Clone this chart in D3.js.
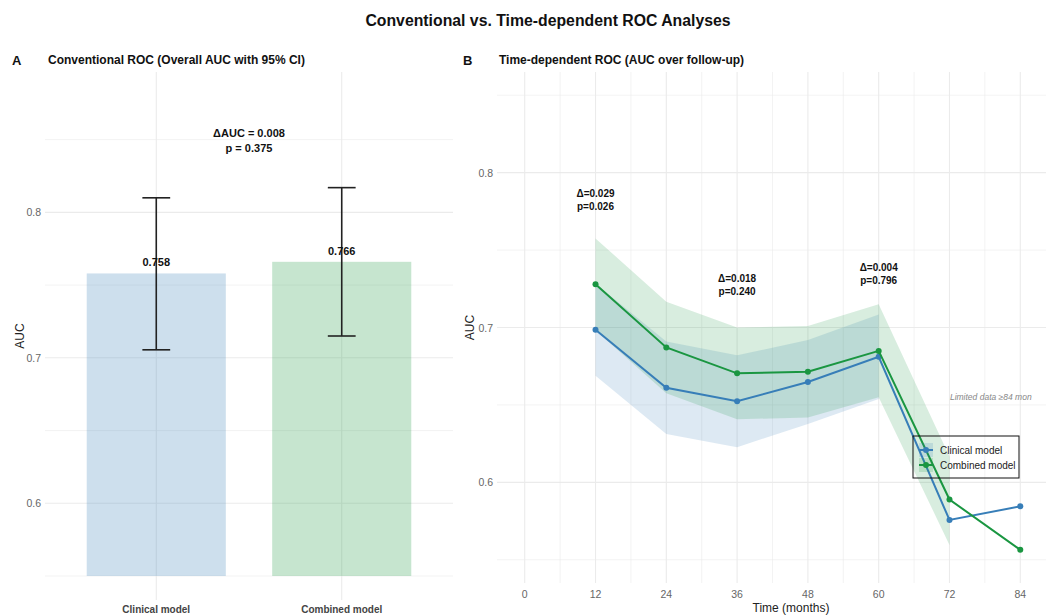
<!DOCTYPE html>
<html>
<head>
<meta charset="utf-8">
<script src="https://cdn.jsdelivr.net/npm/d3@7"></script>
<style>
  body { margin: 0; background: #fff; }
  svg { font-family: "Liberation Sans", Arial, sans-serif; display: block; }
</style>
</head>
<body>
<svg id="chart" width="1046" height="615"></svg>
<script>
// panel A data
const models = ["Clinical model", "Combined model"];
const overallAuc = [0.758, 0.766];
const overallLower = [0.7055, 0.715];
const overallUpper = [0.810, 0.817];
const overallDelta = "0.008";
const overallP = "0.375";

// panel B data
const months = [12, 24, 36, 48, 60, 72, 84];
const clinicalAuc = [0.6985, 0.6611, 0.6524, 0.6648, 0.6811, 0.5757, 0.5845];
const combinedAuc = [0.7279, 0.6871, 0.6704, 0.6714, 0.6849, 0.5889, 0.5564];
const clinicalLower = [0.6688, 0.6313, 0.6227, 0.6377, 0.6538, null, null];
const clinicalUpper = [0.7282, 0.6909, 0.6821, 0.6919, 0.7084, null, null];
const combinedLower = [0.6983, 0.6575, 0.6408, 0.6418, 0.6549, 0.5596, null];
const combinedUpper = [0.7575, 0.7167, 0.7000, 0.7010, 0.7150, 0.6167, null];
const annotMonths = [12, 36, 60];
const annotDelta = ["0.029", "0.018", "0.004"];
const annotP = ["0.026", "0.240", "0.796"];
const annotY = [0.7826, 0.7274, 0.7345];
const xTicks = [0, 12, 24, 36, 48, 60, 72, 84];
const xMinor = [6, 18, 30, 42, 54, 66, 78];
const yTicks = [0.6, 0.7, 0.8];
const yMinor = [0.55, 0.65, 0.75, 0.85];

const blue = "#377EB8", green = "#1A9641";
const colors = [blue, green];
const gridColor = "#ebebeb";

const svg = d3.select("#chart");

// main title
svg.append("text")
    .attr("x", 548).attr("y", 26)
    .attr("text-anchor", "middle")
    .attr("font-size", "15.8px").attr("font-weight", "bold").attr("fill", "#111")
    .text("Conventional vs. Time-dependent ROC Analyses");

// ---------- Panel A ----------
const a = {left: 45, right: 453, top: 72, bottom: 600};
const xA = d3.scalePoint().domain(models).range([a.left, a.right]).padding(0.6);
const yA = d3.scaleLinear().domain([0.5335, 0.8965]).range([a.bottom, a.top]);
const step = xA.step();

svg.append("text").attr("x", 12).attr("y", 65)
    .attr("font-size", "13px").attr("font-weight", "bold").attr("fill", "#111").text("A");
svg.append("text").attr("x", 48).attr("y", 64)
    .attr("font-size", "12px").attr("font-weight", "bold").attr("fill", "#111")
    .text("Conventional ROC (Overall AUC with 95% CI)");

const gA = svg.append("g");
gA.selectAll(".minor").data(yMinor).enter().append("line")
    .attr("x1", a.left).attr("x2", a.right)
    .attr("y1", d => yA(d)).attr("y2", d => yA(d))
    .attr("stroke", gridColor).attr("stroke-width", 0.6);
gA.selectAll(".major").data(yTicks).enter().append("line")
    .attr("x1", a.left).attr("x2", a.right)
    .attr("y1", d => yA(d)).attr("y2", d => yA(d))
    .attr("stroke", gridColor).attr("stroke-width", 1.1);
gA.selectAll(".vgrid").data(models).enter().append("line")
    .attr("x1", d => xA(d)).attr("x2", d => xA(d))
    .attr("y1", a.top).attr("y2", a.bottom)
    .attr("stroke", gridColor).attr("stroke-width", 1.1);

gA.selectAll(".bar").data(models).enter().append("rect")
    .attr("x", d => xA(d) - step * 0.375)
    .attr("width", step * 0.75)
    .attr("y", (d, i) => yA(overallAuc[i]))
    .attr("height", (d, i) => yA(0.55) - yA(overallAuc[i]))
    .attr("fill", (d, i) => colors[i]).attr("fill-opacity", 0.25);

models.forEach((m, i) => {
    const cx = xA(m), w = step * 0.075;
    gA.append("line").attr("x1", cx).attr("x2", cx)
        .attr("y1", yA(overallLower[i])).attr("y2", yA(overallUpper[i]))
        .attr("stroke", "#222").attr("stroke-width", 1.6);
    [overallLower[i], overallUpper[i]].forEach(v => {
        gA.append("line").attr("x1", cx - w).attr("x2", cx + w)
            .attr("y1", yA(v)).attr("y2", yA(v))
            .attr("stroke", "#222").attr("stroke-width", 1.6);
    });
    gA.append("text").attr("x", cx).attr("y", yA(overallAuc[i]) - 7)
        .attr("text-anchor", "middle").attr("font-size", "11px").attr("font-weight", "bold")
        .attr("fill", "#111").text(overallAuc[i].toFixed(3));
    gA.append("text").attr("x", cx).attr("y", a.bottom + 13)
        .attr("text-anchor", "middle").attr("font-size", "10px").attr("font-weight", "bold")
        .attr("fill", "#444").text(m);
});

const midA = (xA(models[0]) + xA(models[1])) / 2;
gA.append("text").attr("x", midA).attr("y", yA(0.85) - 3)
    .attr("text-anchor", "middle").attr("font-size", "11px").attr("font-weight", "bold")
    .attr("fill", "#111").text("ΔAUC = " + overallDelta);
gA.append("text").attr("x", midA).attr("y", yA(0.85) + 12)
    .attr("text-anchor", "middle").attr("font-size", "11px").attr("font-weight", "bold")
    .attr("fill", "#111").text("p = " + overallP);

gA.selectAll(".ytick").data(yTicks).enter().append("text")
    .attr("x", a.left - 4).attr("y", d => yA(d) + 4)
    .attr("text-anchor", "end").attr("font-size", "10.5px").attr("fill", "#666")
    .text(d => d.toFixed(1));
gA.append("text")
    .attr("transform", `translate(24,${(a.top + a.bottom) / 2}) rotate(-90)`)
    .attr("text-anchor", "middle").attr("font-size", "12px").attr("fill", "#222")
    .text("AUC");

// ---------- Panel B ----------
const b = {left: 497, right: 1048, top: 72, bottom: 583};
const xB = d3.scaleLinear().domain([-4.7, 88.7]).range([b.left, b.right]);
const yB = d3.scaleLinear().domain([0.535, 0.865]).range([b.bottom, b.top]);

svg.append("text").attr("x", 463).attr("y", 65)
    .attr("font-size", "13px").attr("font-weight", "bold").attr("fill", "#111").text("B");
svg.append("text").attr("x", 499).attr("y", 64)
    .attr("font-size", "12px").attr("font-weight", "bold").attr("fill", "#111")
    .text("Time-dependent ROC (AUC over follow-up)");

const gB = svg.append("g");
gB.selectAll(".minor").data(yMinor).enter().append("line")
    .attr("x1", b.left).attr("x2", b.right)
    .attr("y1", d => yB(d)).attr("y2", d => yB(d))
    .attr("stroke", gridColor).attr("stroke-width", 0.6);
gB.selectAll(".major").data(yTicks).enter().append("line")
    .attr("x1", b.left).attr("x2", b.right)
    .attr("y1", d => yB(d)).attr("y2", d => yB(d))
    .attr("stroke", gridColor).attr("stroke-width", 1.1);
gB.selectAll(".xminor").data(xMinor).enter().append("line")
    .attr("x1", d => xB(d)).attr("x2", d => xB(d))
    .attr("y1", b.top).attr("y2", b.bottom)
    .attr("stroke", gridColor).attr("stroke-width", 0.6);
gB.selectAll(".xmajor").data(xTicks).enter().append("line")
    .attr("x1", d => xB(d)).attr("x2", d => xB(d))
    .attr("y1", b.top).attr("y2", b.bottom)
    .attr("stroke", gridColor).attr("stroke-width", 1.1);

const series = [
    {name: "Clinical model", auc: clinicalAuc, lo: clinicalLower, hi: clinicalUpper, color: blue},
    {name: "Combined model", auc: combinedAuc, lo: combinedLower, hi: combinedUpper, color: green}
];

const area = d3.area()
    .defined(d => d.lo !== null)
    .x(d => xB(d.m)).y0(d => yB(d.lo)).y1(d => yB(d.hi));
const line = d3.line().x(d => xB(d.m)).y(d => yB(d.v));

series.forEach(s => {
    const rows = months.map((m, i) => ({m: m, lo: s.lo[i], hi: s.hi[i]}));
    gB.append("path").datum(rows)
        .attr("d", area).attr("fill", s.color).attr("fill-opacity", 0.17);
});

series.forEach(s => {
    const pts = months.map((m, i) => ({m: m, v: s.auc[i]}));
    gB.append("path").datum(pts)
        .attr("d", line).attr("fill", "none")
        .attr("stroke", s.color).attr("stroke-width", 2);
    gB.selectAll(null).data(pts).enter().append("circle")
        .attr("cx", d => xB(d.m)).attr("cy", d => yB(d.v)).attr("r", 3)
        .attr("fill", s.color);
});

annotMonths.forEach((m, i) => {
    gB.append("text").attr("x", xB(m)).attr("y", yB(annotY[i]) - 3)
        .attr("text-anchor", "middle").attr("font-size", "10px").attr("font-weight", "bold")
        .attr("fill", "#111").text("Δ=" + annotDelta[i]);
    gB.append("text").attr("x", xB(m)).attr("y", yB(annotY[i]) + 10)
        .attr("text-anchor", "middle").attr("font-size", "10px").attr("font-weight", "bold")
        .attr("fill", "#111").text("p=" + annotP[i]);
});

gB.append("text").attr("x", xB(79)).attr("y", yB(0.655) + 3)
    .attr("text-anchor", "middle").attr("font-size", "8.5px").attr("font-style", "italic")
    .attr("fill", "#888").text("Limited data ≥84 mon");

gB.selectAll(".ytick").data(yTicks).enter().append("text")
    .attr("x", b.left - 4).attr("y", d => yB(d) + 4)
    .attr("text-anchor", "end").attr("font-size", "10.5px").attr("fill", "#666")
    .text(d => d.toFixed(1));
gB.selectAll(".xtick").data(xTicks).enter().append("text")
    .attr("x", d => xB(d)).attr("y", b.bottom + 15)
    .attr("text-anchor", "middle").attr("font-size", "10.5px").attr("fill", "#666")
    .text(d => d);
gB.append("text")
    .attr("transform", `translate(474,${(b.top + b.bottom) / 2}) rotate(-90)`)
    .attr("text-anchor", "middle").attr("font-size", "12px").attr("fill", "#222")
    .text("AUC");
gB.append("text").attr("x", 791).attr("y", 612)
    .attr("text-anchor", "middle").attr("font-size", "12px").attr("fill", "#222")
    .text("Time (months)");

// legend
const leg = gB.append("g").attr("transform", "translate(913,436)");
leg.append("rect").attr("width", 106).attr("height", 42)
    .attr("fill", "none").attr("stroke", "#111").attr("stroke-width", 1);
series.forEach((s, i) => {
    const ky = 14 + i * 15;
    leg.append("rect").attr("x", 6).attr("y", ky - 7).attr("width", 14).attr("height", 14)
        .attr("fill", s.color).attr("fill-opacity", 0.17);
    leg.append("line").attr("x1", 6).attr("x2", 20).attr("y1", ky).attr("y2", ky)
        .attr("stroke", s.color).attr("stroke-width", 2);
    leg.append("circle").attr("cx", 13).attr("cy", ky).attr("r", 3).attr("fill", s.color);
    leg.append("text").attr("x", 27).attr("y", ky + 4)
        .attr("font-size", "10px").attr("fill", "#222").text(s.name);
});
</script>
</body>
</html>
